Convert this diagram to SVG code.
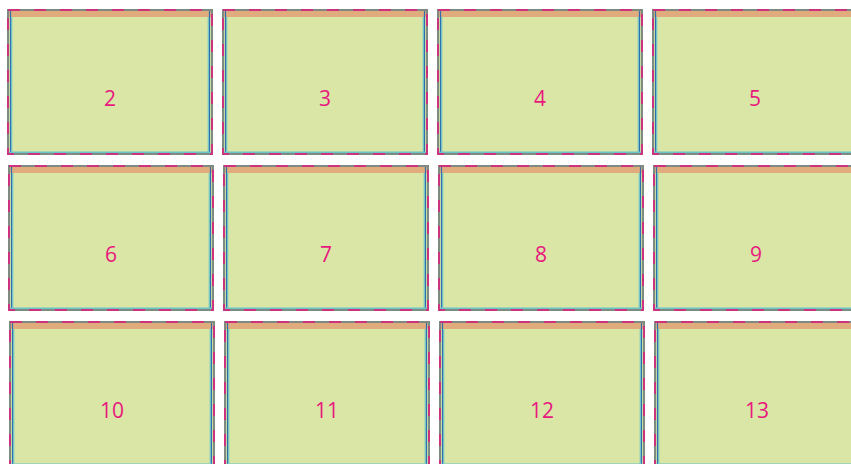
<svg xmlns="http://www.w3.org/2000/svg" width="851" height="464" viewBox="0 0 851 464">
<defs>
<style>
.page{fill:#d9e6a5}
.strip{fill:#e0ab7d}
.outer{fill:none;stroke:#7f8a80;stroke-width:2}
.dash{fill:none;stroke:#e4157f;stroke-width:2;stroke-dasharray:12 14;opacity:0.75}
.blue{stroke:#2f6fb0;stroke-width:1.2}
.cyan{stroke:#6cc3c8;stroke-width:1.2}
.bot{stroke:#6cc3c8;stroke-width:1.5}
.num{font-family:"Open Sans","Noto Sans","Liberation Sans",sans-serif;font-size:21px;fill:#e8187e;text-anchor:middle}
</style>
<g id="tpl">
<rect class="page" x="0" y="0" width="206" height="146"/>
<rect class="strip" x="2" y="2" width="202" height="6"/>
<line class="blue" x1="3.5" y1="2" x2="3.5" y2="144"/>
<line class="cyan" x1="4.7" y1="8" x2="4.7" y2="143"/>
<line class="blue" x1="202.5" y1="2" x2="202.5" y2="144"/>
<line class="cyan" x1="201.3" y1="8" x2="201.3" y2="143"/>
<line class="bot" x1="2" y1="143.3" x2="204" y2="143.3"/>
<rect class="outer" x="1" y="1" width="204" height="144"/>
<rect class="dash" x="1" y="1" width="204" height="144"/>
</g>
</defs>
<g id="p2"><use href="#tpl" x="7" y="9"/><text class="num" x="110" y="106">2</text></g>
<g id="p3"><use href="#tpl" x="222" y="9"/><text class="num" x="325" y="106">3</text></g>
<g id="p4"><use href="#tpl" x="437" y="9"/><text class="num" x="540" y="106">4</text></g>
<g id="p5"><use href="#tpl" x="652" y="9"/><text class="num" x="755" y="106">5</text></g>
<g id="p6"><use href="#tpl" x="8" y="165"/><text class="num" x="111" y="262">6</text></g>
<g id="p7"><use href="#tpl" x="223" y="165"/><text class="num" x="326" y="262">7</text></g>
<g id="p8"><use href="#tpl" x="438" y="165"/><text class="num" x="541" y="262">8</text></g>
<g id="p9"><use href="#tpl" x="653" y="165"/><text class="num" x="756" y="262">9</text></g>
<g id="p10"><use href="#tpl" x="9" y="321"/><text class="num" x="112" y="418">10</text></g>
<g id="p11"><use href="#tpl" x="224" y="321"/><text class="num" x="327" y="418">11</text></g>
<g id="p12"><use href="#tpl" x="439" y="321"/><text class="num" x="542" y="418">12</text></g>
<g id="p13"><use href="#tpl" x="654" y="321"/><text class="num" x="757" y="418">13</text></g>
<g id="connectors"/>
</svg>
